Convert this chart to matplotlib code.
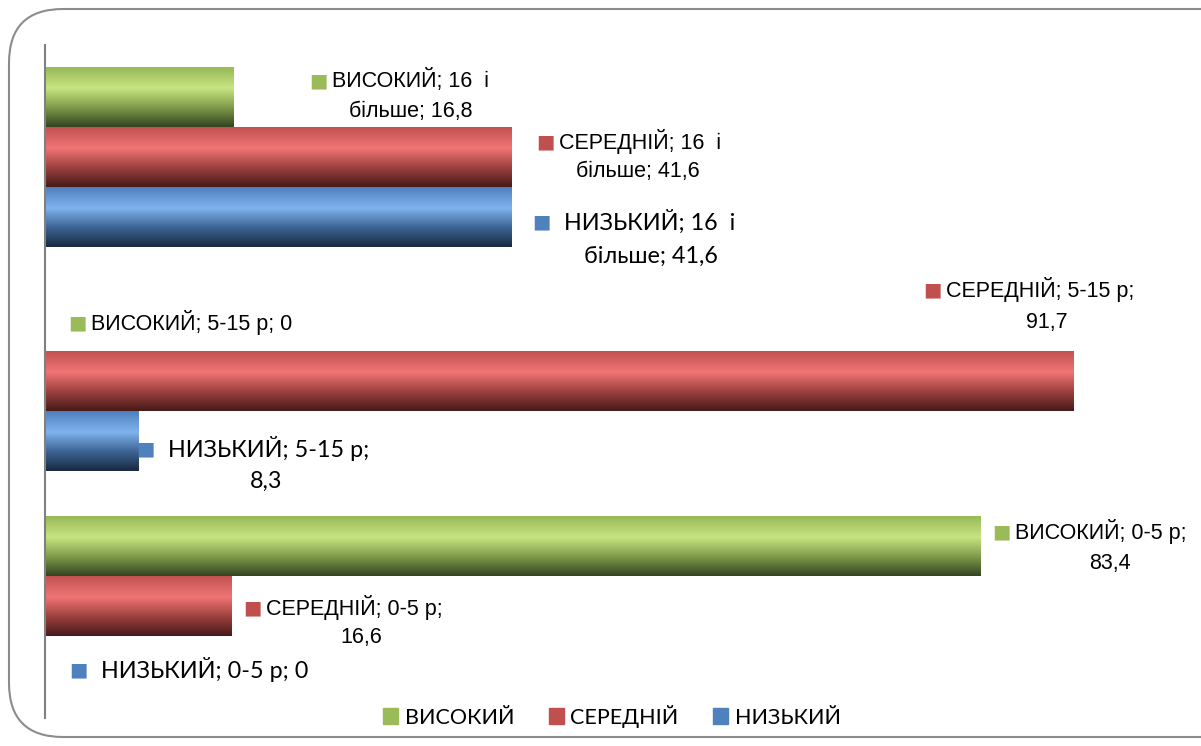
import matplotlib.pyplot as plt
import numpy as np
from matplotlib.patches import FancyBboxPatch

# дані
groups = ['0-5 р', '5-15 р', '16  і більше']
series = ['ВИСОКИЙ', 'СЕРЕДНІЙ', 'НИЗЬКИЙ']
vysokyi = [83.4, 0, 16.8]
serednii = [16.6, 91.7, 41.6]
nyzkyi = [0, 8.3, 41.6]
values = [vysokyi, serednii, nyzkyi]

colors = ['#9BBB59', '#C0504D', '#4F81BD']
grads = [  # верх, світла смуга, середина, низ
    ['#97B957', '#C8E582', '#7E9A4A', '#34441F'],
    ['#C25250', '#F07574', '#9C403E', '#471A19'],
    ['#4E80BE', '#80B3EE', '#3B6392', '#1B2940'],
]
offsets = [1, 0, -1]  # ВИСОКИЙ зверху, НИЗЬКИЙ знизу
h = 0.267

W, H = 1201, 746
fig = plt.figure(figsize=(W / 100, H / 100), dpi=100)
ax = fig.add_axes([45 / W, 28 / H, 1122 / W, 673 / H])
ax.set_xlim(0, 100)


def gradient(stops):
    pos = [0, 0.35, 0.68, 1]
    rgb = np.array([plt.matplotlib.colors.to_rgb(c) for c in stops])
    t = np.linspace(0, 1, 100)
    img = np.stack([np.interp(t, pos, rgb[:, k]) for k in range(3)], axis=-1)
    return img[:, None, :]


for s in range(3):
    for g in range(3):
        v = values[s][g]
        y = g + offsets[s] * h
        ax.barh(y, v, height=h, color=colors[s], linewidth=0)
        if v > 0:
            ax.imshow(gradient(grads[s]), extent=[0, v, y - h / 2, y + h / 2],
                      aspect='auto', origin='upper', zorder=2)

ax.set_xlim(0, 100)
ax.set_ylim(-0.5, 2.5)
ax.set_xticks([])
ax.set_yticks([])
for sp in ['top', 'right', 'bottom']:
    ax.spines[sp].set_visible(False)
ax.spines['left'].set_color('#808080')
ax.spines['left'].set_linewidth(1.5)

narrow = ['Liberation Sans Narrow', 'Liberation Sans', 'DejaVu Sans']
calibri = ['Lato', 'DejaVu Sans']


def P(x, y):
    return x / W, 1 - y / H


# підписи даних: (серія, група, позиція маркера, рядок 1, рядок 2, центр рядка 2)
labels = [
    (0, 2, (318, 81), 'ВИСОКИЙ; 16  і', 'більше; 16,8', 411, 112, narrow),
    (1, 2, (545, 142), 'СЕРЕДНІЙ; 16  і', 'більше; 41,6', 638, 172, narrow),
    (2, 2, (541, 222), 'НИЗЬКИЙ; 16  і', 'більше; 41,6', 651, 256, calibri),
    (0, 1, (77, 323), 'ВИСОКИЙ; 5-15 р; 0', '', 0, 0, narrow),
    (1, 1, (932, 290), 'СЕРЕДНІЙ; 5-15 р;', '91,7', 1047, 322, narrow),
    (2, 1, (145, 449), 'НИЗЬКИЙ; 5-15 р;', '8,3', 266, 481, calibri),
    (0, 0, (1001, 532), 'ВИСОКИЙ; 0-5 р;', '83,4', 1110, 563, narrow),
    (1, 0, (252, 608), 'СЕРЕДНІЙ; 0-5 р;', '16,6', 361, 638, narrow),
    (2, 0, (78, 670), 'НИЗЬКИЙ; 0-5 р; 0', '', 0, 0, calibri),
]
for s, g, (mx, my), l1, l2, cx, cy, fam in labels:
    fs = 15.5 if fam is narrow else 16.8
    gap = 14 if fam is narrow else 23
    fig.text(*P(mx, my), '■', color=colors[s], fontsize=14, ha='center', va='center',
             family='DejaVu Sans')
    fig.text(*P(mx + gap, my), l1, fontsize=fs, family=fam, ha='left', va='center')
    if l2:
        fig.text(*P(cx, cy), l2, fontsize=fs, family=fam, ha='center', va='center')

# легенда
handles = [plt.Rectangle((0, 0), 1, 1, color=c) for c in colors]
fig.legend(handles, series, loc='center', bbox_to_anchor=P(612, 716), ncol=3,
           frameon=False, prop={'family': calibri, 'size': 15.5},
           handlelength=0.7, handleheight=0.7, handletextpad=0.3, columnspacing=1.6)

# рамка
frame = FancyBboxPatch((9 / W, 9 / H), 1300 / W, 728 / H,
                       boxstyle='round,pad=0,rounding_size=0.045',
                       transform=fig.transFigure, fill=False,
                       edgecolor='#8C8C8C', linewidth=1.5, mutation_aspect=W / H)
fig.patches.append(frame)

fig.savefig('out.png', dpi=100)
